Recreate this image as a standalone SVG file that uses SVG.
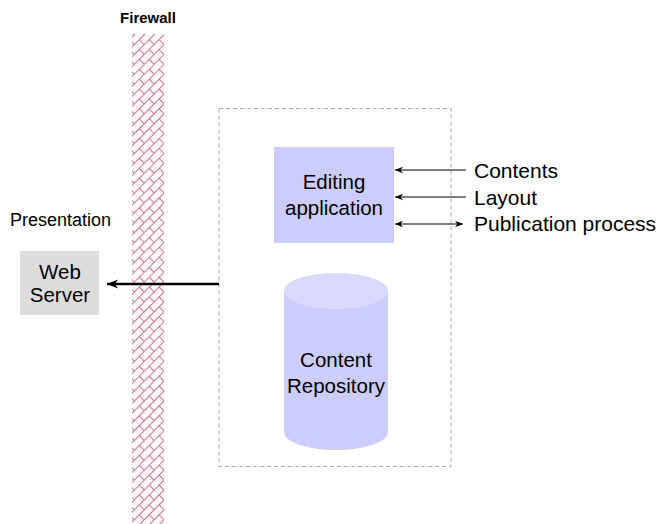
<svg xmlns="http://www.w3.org/2000/svg" width="660" height="524" viewBox="0 0 660 524">
<style>
text{font-family:"Liberation Sans",Arial,sans-serif;fill:#000}
.node{font-size:20.5px}
.lbl{font-size:21px}
.ln{stroke:#000;fill:none}
</style>
<defs>
<pattern id="brick" width="14" height="14" patternUnits="userSpaceOnUse" patternTransform="rotate(-45)">
<rect width="14" height="14" fill="#fff7fa"/>
<path d="M0,0.5H14M0,7.5H14M0.5,0.5V7.5M7.5,7.5V14.5" stroke="#c06a8e" stroke-width="0.9" fill="none"/>
</pattern>
<marker id="ah" viewBox="0 0 10 10" refX="10" refY="5" markerWidth="8" markerHeight="8" orient="auto-start-reverse" markerUnits="userSpaceOnUse">
<path d="M0,1L10,5L0,9L3,5Z" fill="#000"/>
</marker>
<marker id="ah2" viewBox="0 0 10 10" refX="10" refY="5" markerWidth="11" markerHeight="11" orient="auto" markerUnits="userSpaceOnUse">
<path d="M0,1L10,5L0,9L3,5Z" fill="#000"/>
</marker>
</defs>
<rect width="660" height="524" fill="#fff"/>
<g id="firewall">
<text x="148" y="23" text-anchor="middle" font-weight="bold" font-size="15">Firewall</text>
<rect x="132" y="34" width="32" height="490" fill="url(#brick)"/>
</g>
<g id="container">
<rect x="219" y="108.5" width="232" height="358" fill="none" stroke="#aaa" stroke-width="1" stroke-dasharray="4,3"/>
</g>
<g id="presentation">
<text x="10" y="226" font-size="18">Presentation</text>
</g>
<g id="webserver">
<rect x="20" y="251" width="79" height="64" fill="#ddd"/>
<text class="node" x="60" y="279" text-anchor="middle">Web</text>
<text class="node" x="60" y="302" text-anchor="middle">Server</text>
</g>
<g id="editing">
<rect x="274" y="147" width="120" height="96" fill="#ccccff"/>
<text class="node" x="334" y="189" text-anchor="middle">Editing</text>
<text class="node" x="334" y="215" text-anchor="middle">application</text>
</g>
<g id="repository">
<path d="M284,291V432A52,18 0 0 0 388,432V291Z" fill="#ccccff"/>
<ellipse cx="336" cy="291" rx="52" ry="18" fill="#dadaff"/>
<text class="node" x="336" y="367" text-anchor="middle">Content</text>
<text class="node" x="336" y="393" text-anchor="middle">Repository</text>
</g>
<g id="connectors">
<line class="ln" x1="219" y1="284" x2="107" y2="284" stroke-width="2.5" marker-end="url(#ah2)"/>
<line class="ln" x1="466" y1="170" x2="395" y2="170" stroke-width="1" marker-end="url(#ah)"/>
<line class="ln" x1="466" y1="197" x2="395" y2="197" stroke-width="1" marker-end="url(#ah)"/>
<line class="ln" x1="395" y1="224" x2="463" y2="224" stroke-width="1" marker-start="url(#ah)" marker-end="url(#ah)"/>
</g>
<g id="labels">
<text class="lbl" x="474" y="178">Contents</text>
<text class="lbl" x="474" y="205">Layout</text>
<text class="lbl" x="474" y="231">Publication process</text>
</g>
</svg>
